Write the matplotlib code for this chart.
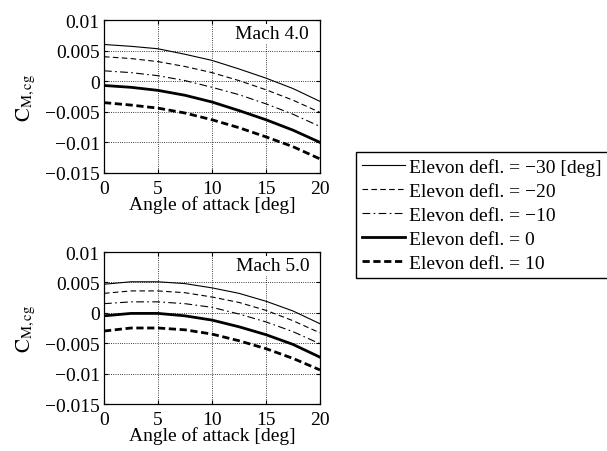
import matplotlib
matplotlib.use('Agg')
import matplotlib.pyplot as plt
import numpy as np

plt.rcParams['font.family'] = ['Liberation Serif', 'DejaVu Serif']
plt.rcParams['mathtext.fontset'] = 'stix'
plt.rcParams['font.size'] = 14

# angle of attack [deg]
alpha = [0, 2.5, 5, 7.5, 10, 12.5, 15, 17.5, 20]

# Mach 4.0, one list per elevon deflection
m4_m30 = [0.0060, 0.0057, 0.0053, 0.0044, 0.0034, 0.0020, 0.0005, -0.0012, -0.0033]
m4_m20 = [0.0040, 0.0037, 0.0032, 0.0024, 0.0014, 0.0001, -0.0014, -0.0031, -0.0051]
m4_m10 = [0.0017, 0.0014, 0.0009, 0.0001, -0.0010, -0.0022, -0.0037, -0.0054, -0.0074]
m4_0 = [-0.0007, -0.0010, -0.0015, -0.0023, -0.0034, -0.0048, -0.0063, -0.0080, -0.0100]
m4_10 = [-0.0035, -0.0039, -0.0044, -0.0052, -0.0063, -0.0076, -0.0091, -0.0107, -0.0127]

# Mach 5.0
m5_m30 = [0.0047, 0.0051, 0.0051, 0.0048, 0.0041, 0.0032, 0.0019, 0.0003, -0.0018]
m5_m20 = [0.0032, 0.0036, 0.0036, 0.0033, 0.0026, 0.0017, 0.0004, -0.0013, -0.0033]
m5_m10 = [0.0015, 0.0018, 0.0018, 0.0015, 0.0009, -0.0002, -0.0015, -0.0031, -0.0051]
m5_0 = [-0.0005, -0.0001, -0.0001, -0.0005, -0.0012, -0.0023, -0.0036, -0.0052, -0.0073]
m5_10 = [-0.0030, -0.0025, -0.0025, -0.0028, -0.0035, -0.0046, -0.0059, -0.0075, -0.0094]

labels = ['Elevon defl. = \u221230 [deg]', 'Elevon defl. = \u221220',
          'Elevon defl. = \u221210', 'Elevon defl. = 0', 'Elevon defl. = 10']
styles = [dict(ls='-', lw=0.8), dict(ls=(0, (5, 3)), lw=0.8),
          dict(ls=(0, (7, 3, 1.5, 3)), lw=0.8), dict(ls='-', lw=2.0),
          dict(ls=(0, (2.6, 1.3)), lw=2.0)]

yticks = [0.01, 0.005, 0, -0.005, -0.01, -0.015]
ytick_labels = ['0.01', '0.005', '0', '\u22120.005', '\u22120.01', '\u22120.015']

fig = plt.figure(figsize=(6.07, 4.52), dpi=100)
ax1 = fig.add_axes([104/607, 1-174/452, 216/607, 153/452])
ax2 = fig.add_axes([104/607, 1-405/452, 216/607, 152/452])

panels = [(ax1, [m4_m30, m4_m20, m4_m10, m4_0, m4_10], 'Mach 4.0'),
          (ax2, [m5_m30, m5_m20, m5_m10, m5_0, m5_10], 'Mach 5.0')]

handles = []
for ax, series, title in panels:
    handles = []
    for s, st, lab in zip(series, styles, labels):
        h, = ax.plot(alpha, s, color='k', label=lab, **st)
        handles.append(h)
    ax.set_xlim(0, 20)
    ax.set_ylim(-0.015, 0.01)
    ax.set_xticks([0, 5, 10, 15, 20])
    ax.set_yticks(yticks)
    ax.set_yticklabels(ytick_labels)
    ax.grid(True, color='k', ls=':', lw=0.6)
    ax.tick_params(direction='in', length=3, width=0.8, top=True, right=True)
    ax.tick_params(axis='x', pad=5)
    ax.tick_params(axis='y', pad=3)
    for sp in ax.spines.values():
        sp.set_linewidth(0.9)
    ax.set_xlabel('Angle of attack [deg]', labelpad=-1)
    ax.set_ylabel(r'$\mathrm{C}_{\mathrm{M,cg}}$', labelpad=5, fontsize=15)
    ax.text(0.95, 0.965, title, transform=ax.transAxes, ha='right', va='top',
            bbox=dict(fc='white', ec='none', pad=1))

fig.legend(handles, labels, loc='upper left', bbox_to_anchor=(356/607, 1-153/452),
           frameon=True, fancybox=False, edgecolor='k', framealpha=1,
           handlelength=2.2, handletextpad=0.25, labelspacing=0.33,
           borderpad=0.3, borderaxespad=0)

fig.savefig('out.png', dpi=100)
